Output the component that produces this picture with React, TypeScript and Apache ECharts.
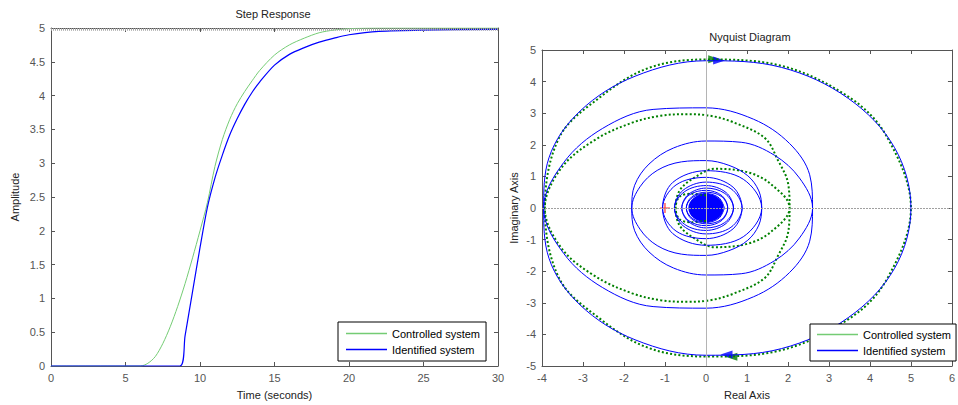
import React, { useEffect, useRef } from "react";
import * as echarts from "echarts";

const stepTitle = "Step Response";
const nyquistTitle = "Nyquist Diagram";
const seriesNames = ["Controlled system", "Identified system"];

const stepXTicks = { min: 0, max: 30, interval: 5 };
const stepYTicks = { min: 0, max: 5, interval: 0.5 };
const nyqXTicks = { min: -4, max: 6, interval: 1 };
const nyqYTicks = { min: -5, max: 5, interval: 1 };

// Step response readings [time, amplitude]
const controlledStep: number[][] = [
  [0, 0], [6.0, 0], [6.5, 0.04], [7.0, 0.14], [7.5, 0.33], [8.0, 0.58], [8.5, 0.88],
  [9.0, 1.22], [9.5, 1.6], [10.0, 2.0], [10.5, 2.42], [11.0, 2.95], [11.5, 3.35],
  [12.0, 3.65], [12.5, 3.88], [13.0, 4.06], [13.5, 4.22], [14.0, 4.37], [15.0, 4.6],
  [16.0, 4.75], [17.0, 4.85], [18.0, 4.93], [19.0, 4.97], [20.0, 4.99], [22.0, 5.0], [30.0, 5.0],
];
const identifiedStep: number[][] = [
  [0, 0], [8.65, 0], [9.0, 0.45], [9.5, 1.1], [10.0, 1.75], [10.5, 2.35], [11.0, 2.78],
  [11.5, 3.12], [12.0, 3.42], [12.5, 3.66], [13.0, 3.87], [13.5, 4.05], [14.0, 4.2],
  [15.0, 4.45], [16.0, 4.61], [17.0, 4.71], [18.0, 4.79], [19.0, 4.85], [20.0, 4.9],
  [22.0, 4.95], [25.0, 4.97], [30.0, 4.98],
];
const steadyStateLevel = [4.98];

// Nyquist readings, positive-frequency branch [real, imag]
const controlledNyq: number[][] = [
  [5.0, 0.0], [4.41, -2.26], [3.5, -3.5], [1.74, -4.53], [0.0, -4.7], [-1.4, -4.43],
  [-2.6, -3.49], [-3.58, -2.23], [-3.93, 0.0], [-3.52, 1.28], [-2.69, 2.17], [-1.8, 2.7],
  [-1.1, 2.92], [-0.45, 2.97], [0.1, 2.92], [0.65, 2.72], [1.43, 2.22], [1.76, 1.5],
  [2.0, 0.8], [2.04, 0.0], [1.58, -0.76], [1.02, -1.13], [0.21, -1.24], [-0.27, -0.97],
  [-0.64, -0.56], [-0.74, 0.0], [-0.65, 0.35], [-0.35, 0.45], [0.0, 0.4],
];
const identifiedNyq: number[][] = [
  [5.0, 0.0], [4.6, -1.91], [3.47, -3.47], [1.84, -4.45], [0.0, -4.66], [-1.73, -4.17],
  [-3.07, -3.07], [-3.83, -1.59], [-3.96, 0.0], [-3.47, 1.44], [-2.52, 2.52], [-1.29, 3.12],
  [0.0, 3.17], [1.16, 2.81], [2.04, 2.04], [2.53, 1.05], [2.6, 0.0], [2.28, -0.95],
  [1.67, -1.67], [0.86, -2.08], [0.0, -2.12], [-0.79, -1.9], [-1.39, -1.39], [-1.74, -0.72],
  [-1.81, 0.0], [-1.61, 0.67], [-1.19, 1.19], [-0.6, 1.46], [0.0, 1.5], [0.56, 1.35],
  [1.02, 1.02], [1.29, 0.54], [1.36, 0.0], [0.91, -0.91], [0.0, -1.18], [-0.81, -0.81],
  [-1.06, 0.0], [-0.73, 0.73], [0.0, 0.97], [0.66, 0.66], [0.88, 0.0], [0.61, -0.61],
  [0.0, -0.82], [-0.56, -0.56], [-0.77, 0.0], [-0.52, 0.52], [0.0, 0.71], [0.49, 0.49],
  [0.67, 0.0], [0.46, -0.46], [0.0, -0.63], [-0.43, -0.43], [-0.59, 0.0], [-0.41, 0.41],
  [0.0, 0.56], [0.39, 0.39], [0.53, 0.0], [0.37, -0.37], [0.0, -0.5], [-0.35, -0.35],
  [-0.48, 0.0], [-0.33, 0.33], [0.0, 0.46], [0.32, 0.32], [0.45, 0.0],
];
// dense core of the spiral [re, im, radiusRe, radiusIm]
const spiralCore: number[][] = [[0, 0, 0.43, 0.45]];
const arrowsLeftBlue: number[][] = [[0.5, -4.64]];
const arrowsRightBlue: number[][] = [[0.32, 4.67]];
const arrowsLeftGreen: number[][] = [[0.62, -4.71]];
const arrowsRightGreen: number[][] = [[0.2, 4.71]];
const criticalPoint: number[][] = [[-1, 0]];

const GREEN_LIGHT = "#74cc74";
const GREEN_DARK = "#008000";
const BLUE = "#0000ff";
const FONT = "'Liberation Sans', Arial, sans-serif";
const AXIS_COLOR = "#555";
const LABEL_COLOR = "#555";

function withMirror(pos: number[][]) {
  const neg = pos.slice(1).map((p) => [p[0], -p[1]]).reverse();
  return [...neg, ...pos];
}

function baseAxis(extra: any) {
  return {
    type: "value",
    axisLine: { show: true, onZero: false, lineStyle: { color: AXIS_COLOR, width: 1 } },
    axisTick: { show: true, inside: true, length: 4, lineStyle: { color: AXIS_COLOR } },
    axisLabel: { show: false },
    splitLine: { show: false },
    ...extra,
  };
}

function labelCfg() {
  return { show: true, color: LABEL_COLOR, fontSize: 11, fontFamily: FONT, margin: 6 };
}

const nameStyle = { color: "#222", fontSize: 11, fontFamily: FONT };

export default function App() {
  const ref = useRef<HTMLDivElement>(null);
  useEffect(() => {
    if (!ref.current) return;
    const chart = echarts.init(ref.current, undefined, { renderer: "svg" });
    const legendData = [
      { name: seriesNames[0], itemStyle: { color: GREEN_LIGHT } },
      { name: seriesNames[1], itemStyle: { color: BLUE } },
    ];
    const legendCommon = {
      orient: "vertical",
      icon: "rect",
      itemWidth: 41,
      itemHeight: 1.5,
      itemGap: 5,
      itemTextGap: 5,
      borderColor: "#000",
      borderWidth: 1,
      borderRadius: 0,
      backgroundColor: "#fff",
      selectedMode: false,
      textStyle: { color: "#000", fontSize: 11, fontFamily: FONT },
      data: legendData,
    };
    const arrowLeft = "path://M10,0 L0,4 L10,8 Z";
    const arrowRight = "path://M0,0 L10,4 L0,8 Z";
    const scatterBase = { type: "scatter", xAxisIndex: 2, yAxisIndex: 2, symbolSize: [12, 8], silent: true };
    const option: any = {
      animation: false,
      backgroundColor: "#fff",
      textStyle: { fontFamily: FONT },
      title: [
        {
          text: stepTitle, left: 273, top: 8, textAlign: "center", padding: 0,
          textStyle: { fontSize: 11, fontWeight: "normal", color: "#222", fontFamily: FONT },
        },
        {
          text: nyquistTitle, left: 750, top: 31, textAlign: "center", padding: 0,
          textStyle: { fontSize: 11, fontWeight: "normal", color: "#222", fontFamily: FONT },
        },
      ],
      legend: [
        { ...legendCommon, left: 338, top: 322, padding: [6, 6, 6, 8] },
        { ...legendCommon, left: 810, top: 324, padding: [5, 5, 5, 7] },
      ],
      grid: [
        { left: 51, top: 28, width: 447, height: 340 },
        { left: 542, top: 50, width: 413, height: 318 },
      ],
      xAxis: [
        baseAxis({
          gridIndex: 0, position: "bottom", ...stepXTicks, axisLabel: labelCfg(),
          name: "Time (seconds)", nameLocation: "middle", nameGap: 23, nameTextStyle: nameStyle,
        }),
        baseAxis({ gridIndex: 0, position: "top", ...stepXTicks }),
        baseAxis({
          gridIndex: 1, position: "bottom", ...nyqXTicks, axisLabel: labelCfg(),
          name: "Real Axis", nameLocation: "middle", nameGap: 23, nameTextStyle: nameStyle,
        }),
        baseAxis({ gridIndex: 1, position: "top", ...nyqXTicks }),
      ],
      yAxis: [
        baseAxis({
          gridIndex: 0, position: "left", ...stepYTicks, axisLabel: labelCfg(),
          name: "Amplitude", nameLocation: "middle", nameGap: 31, nameTextStyle: nameStyle,
        }),
        baseAxis({ gridIndex: 0, position: "right", ...stepYTicks }),
        baseAxis({
          gridIndex: 1, position: "left", ...nyqYTicks, axisLabel: labelCfg(),
          name: "Imaginary Axis", nameLocation: "middle", nameGap: 23, nameTextStyle: nameStyle,
        }),
        baseAxis({ gridIndex: 1, position: "right", ...nyqYTicks }),
      ],
      series: [
        {
          name: "steady",
          type: "line",
          xAxisIndex: 0,
          yAxisIndex: 0,
          data: [],
          markLine: {
            silent: true,
            symbol: "none",
            label: { show: false },
            lineStyle: { color: "#a8a8a8", width: 2.5, type: [1, 1] },
            data: steadyStateLevel.map((v) => ({ yAxis: v })),
          },
        },
        {
          name: seriesNames[0],
          type: "line",
          xAxisIndex: 0,
          yAxisIndex: 0,
          data: controlledStep,
          smooth: 0.3,
          showSymbol: false,
          lineStyle: { color: GREEN_LIGHT, width: 1 },
          itemStyle: { color: GREEN_LIGHT },
        },
        {
          name: seriesNames[1],
          type: "line",
          xAxisIndex: 0,
          yAxisIndex: 0,
          data: identifiedStep,
          smooth: 0.3,
          showSymbol: false,
          lineStyle: { color: BLUE, width: 1.2 },
          itemStyle: { color: BLUE },
        },
        {
          name: "axes0",
          type: "line",
          xAxisIndex: 2,
          yAxisIndex: 2,
          data: [],
          markLine: {
            silent: true,
            symbol: "none",
            label: { show: false },
            lineStyle: { color: "#b4b4b4", width: 1, type: "solid" },
            data: [{ xAxis: 0 }, { yAxis: 0, lineStyle: { type: [2, 1], color: "#a0a0a0" } }],
          },
        },
        {
          name: seriesNames[0],
          type: "line",
          xAxisIndex: 2,
          yAxisIndex: 2,
          data: withMirror(controlledNyq),
          smooth: 0.35,
          showSymbol: false,
          lineStyle: { color: GREEN_DARK, width: 2, type: [2, 2.2] },
          itemStyle: { color: GREEN_LIGHT },
        },
        {
          name: seriesNames[1],
          type: "line",
          xAxisIndex: 2,
          yAxisIndex: 2,
          data: withMirror(identifiedNyq),
          smooth: 0.35,
          showSymbol: false,
          lineStyle: { color: BLUE, width: 1 },
          itemStyle: { color: BLUE },
        },
        {
          name: "core",
          type: "custom",
          xAxisIndex: 2,
          yAxisIndex: 2,
          silent: true,
          data: spiralCore,
          renderItem: (params: any, api: any) => {
            const c = api.coord([api.value(0), api.value(1)]);
            const s = api.size([api.value(2), api.value(3)]);
            return {
              type: "ellipse",
              shape: { cx: c[0], cy: c[1], rx: s[0], ry: s[1] },
              style: { fill: BLUE },
            };
          },
        },
        { ...scatterBase, name: "arrowG1", data: arrowsLeftGreen, symbol: arrowLeft, itemStyle: { color: GREEN_DARK } },
        { ...scatterBase, name: "arrowG2", data: arrowsRightGreen, symbol: arrowRight, itemStyle: { color: GREEN_DARK } },
        { ...scatterBase, name: "arrowB1", data: arrowsLeftBlue, symbol: arrowLeft, itemStyle: { color: BLUE } },
        { ...scatterBase, name: "arrowB2", data: arrowsRightBlue, symbol: arrowRight, itemStyle: { color: BLUE } },
        {
          ...scatterBase,
          name: "critical",
          data: criticalPoint,
          symbol: "path://M4.4,0h1.2v10h-1.2z M0,4.4h10v1.2h-10z",
          symbolSize: 10,
          itemStyle: { color: "#ff0000" },
        },
      ],
    };
    chart.setOption(option);
    return () => chart.dispose();
  }, []);
  return (
    <div
      ref={ref}
      style={{ position: "fixed", left: 0, top: 0, width: 958, height: 405, background: "#fff" }}
    />
  );
}
